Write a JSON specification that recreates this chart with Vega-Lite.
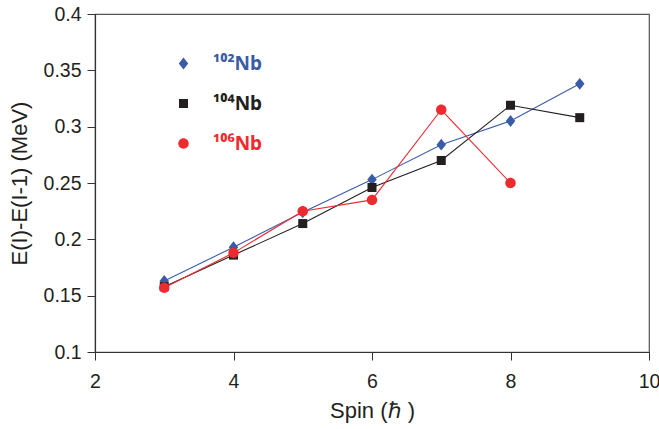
{
  "$schema": "https://vega.github.io/schema/vega-lite/v6.json",
  "width": 554,
  "height": 338,
  "autosize": {"type": "none"},
  "padding": {"left": 95, "top": 14, "right": 10, "bottom": 77},
  "background": "white",
  "config": {
    "view": {"stroke": "#555555", "strokeWidth": 1.2},
    "font": "Liberation Sans",
    "axis": {
      "domainColor": "#333333",
      "domainWidth": 1.2,
      "tickColor": "#333333",
      "tickWidth": 1,
      "tickSize": 8,
      "grid": false,
      "labelFont": "Liberation Sans",
      "labelFontSize": 19.5,
      "labelColor": "#231F20",
      "titleFont": "Liberation Sans",
      "titleFontSize": 22,
      "titleFontWeight": "normal",
      "titleColor": "#231F20"
    },
    "legend": {
      "orient": "none",
      "legendX": 79,
      "legendY": 40,
      "rowPadding": 20,
      "labelOffset": 20,
      "symbolSize": 90,
      "symbolStrokeWidth": 0,
      "labelFont": "Noto Sans",
      "labelFontSize": 19,
      "labelFontWeight": "bold"
    }
  },
  "data": {
    "values": [
      {"spin": 3, "de": 0.163, "nucleus": "102Nb"},
      {"spin": 4, "de": 0.193, "nucleus": "102Nb"},
      {"spin": 5, "de": 0.224, "nucleus": "102Nb"},
      {"spin": 6, "de": 0.253, "nucleus": "102Nb"},
      {"spin": 7, "de": 0.284, "nucleus": "102Nb"},
      {"spin": 8, "de": 0.305, "nucleus": "102Nb"},
      {"spin": 9, "de": 0.338, "nucleus": "102Nb"},
      {"spin": 3, "de": 0.158, "nucleus": "104Nb"},
      {"spin": 4, "de": 0.186, "nucleus": "104Nb"},
      {"spin": 5, "de": 0.214, "nucleus": "104Nb"},
      {"spin": 6, "de": 0.246, "nucleus": "104Nb"},
      {"spin": 7, "de": 0.270, "nucleus": "104Nb"},
      {"spin": 8, "de": 0.319, "nucleus": "104Nb"},
      {"spin": 9, "de": 0.308, "nucleus": "104Nb"},
      {"spin": 3, "de": 0.157, "nucleus": "106Nb"},
      {"spin": 4, "de": 0.188, "nucleus": "106Nb"},
      {"spin": 5, "de": 0.225, "nucleus": "106Nb"},
      {"spin": 6, "de": 0.235, "nucleus": "106Nb"},
      {"spin": 7, "de": 0.315, "nucleus": "106Nb"},
      {"spin": 8, "de": 0.250, "nucleus": "106Nb"}
    ]
  },
  "encoding": {
    "x": {
      "field": "spin",
      "type": "quantitative",
      "scale": {"domain": [2, 10], "nice": false, "zero": false},
      "axis": {"values": [2, 4, 6, 8, 10], "title": "Spin (ℏ )", "labelPadding": 12, "titlePadding": 10, "labelFlush": false}
    },
    "y": {
      "field": "de",
      "type": "quantitative",
      "scale": {"domain": [0.1, 0.4], "nice": false, "zero": false},
      "axis": {"values": [0.1, 0.15, 0.2, 0.25, 0.3, 0.35, 0.4], "format": "~g", "title": "E(I)-E(I-1) (MeV)", "labelPadding": 6, "titlePadding": 12, "labelFlush": false}
    },
    "color": {
      "field": "nucleus",
      "type": "nominal",
      "scale": {"domain": ["102Nb", "104Nb", "106Nb"], "range": ["#3A5BA8", "#231F20", "#EE2A2E"]},
      "legend": {
        "title": null,
        "labelExpr": "datum.value === '102Nb' ? '¹⁰²Nb' : datum.value === '104Nb' ? '¹⁰⁴Nb' : '¹⁰⁶Nb'",
        "encode": {
          "labels": {
            "update": {
              "fill": {"signal": "datum.value === '102Nb' ? '#3A5BA8' : datum.value === '104Nb' ? '#231F20' : '#EE2A2E'"}
            }
          }
        }
      }
    }
  },
  "layer": [
    {
      "mark": {"type": "line", "strokeWidth": 1.1}
    },
    {
      "mark": {"type": "point", "filled": true, "opacity": 1, "size": 90},
      "encoding": {
        "shape": {
          "field": "nucleus",
          "type": "nominal",
          "scale": {
            "domain": ["102Nb", "104Nb", "106Nb"],
            "range": [
              "M0,-1.25L1,0L0,1.25L-1,0Z",
              "M-0.95,-0.95H0.95V0.95H-0.95Z",
              "M-1.1,0A1.1,1.1,0,1,1,1.1,0A1.1,1.1,0,1,1,-1.1,0Z"
            ]
          },
          "legend": {
            "title": null,
            "labelExpr": "datum.value === '102Nb' ? '¹⁰²Nb' : datum.value === '104Nb' ? '¹⁰⁴Nb' : '¹⁰⁶Nb'",
            "encode": {
              "labels": {
                "update": {
                  "fill": {"signal": "datum.value === '102Nb' ? '#3A5BA8' : datum.value === '104Nb' ? '#231F20' : '#EE2A2E'"}
                }
              }
            }
          }
        }
      }
    }
  ]
}
